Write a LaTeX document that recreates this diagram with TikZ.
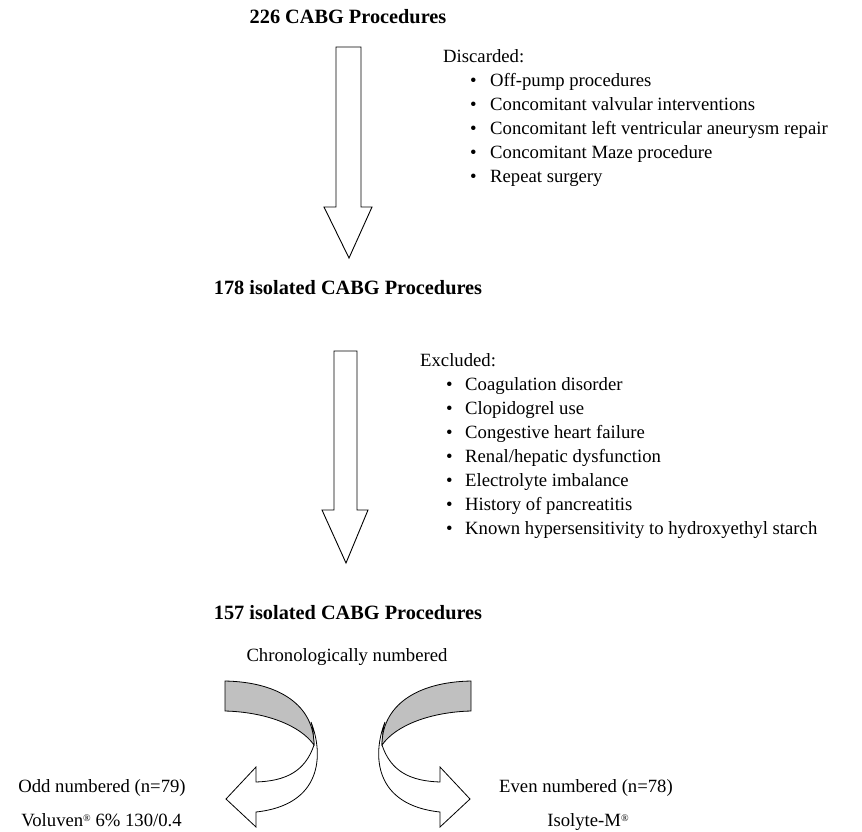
\documentclass[tikz,border=0pt]{standalone}
\usepackage{fontspec}
\setmainfont{Liberation Serif}
\definecolor{facegray}{RGB}{192,192,192}
\newcommand{\regmark}{\raisebox{0.55ex}{\fontsize{10}{10}\selectfont ®}}
\begin{document}
\begin{tikzpicture}[x=1pt,y=-1pt,
  txt/.style={font=\fontsize{18.7}{24}\selectfont, inner sep=0pt},
  ttl/.style={font=\fontsize{20.3}{24}\selectfont\bfseries, inner sep=0pt},
  blockarrow/.style={draw=black, line width=0.9pt, fill=white, line join=miter},
  ribbon/.style={draw=black, line width=0.8pt, fill=white},
  ribbonface/.style={draw=black, line width=0.8pt, fill=facegray},
  carrow/.pic={
    \path[ribbon] (-34,745) .. controls (-43,772) and (-63,781) .. (-92,782)
      -- (-92,767) -- (-122,799) -- (-92,827) -- (-92,812)
      .. controls (-26,805) and (-24,755) .. (-37,722)
      .. controls (-35,730) .. (-34,745) -- cycle;
    \path[ribbonface] (-123,681) .. controls (-68,682) and (-34,706) .. (-34,745)
      .. controls (-48,725) and (-83,712) .. (-123,711) -- cycle;
  }]
\path[use as bounding box] (0,0) rectangle (862,831);

% titles
\node[ttl, anchor=base] (t1) at (348,23) {226 CABG Procedures};
\node[ttl, anchor=base] (t2) at (348,294) {178 isolated CABG Procedures};
\node[ttl, anchor=base] (t3) at (348,619) {157 isolated CABG Procedures};

% straight block arrows
\path[blockarrow] (336,47) -- (361,47) -- (361,207) -- (372,207) -- (349,258)
  -- (324,207) -- (336,207) -- cycle;
\path[blockarrow] (334,351) -- (357,351) -- (357,510) -- (368,510) -- (346,563)
  -- (322,510) -- (334,510) -- cycle;

% discarded list
\node[txt, anchor=base west] (dh) at (443,62) {Discarded:};
\foreach \t [count=\i] in {Off-pump procedures, Concomitant valvular interventions,
  Concomitant left ventricular aneurysm repair, Concomitant Maze procedure, Repeat surgery}{
  \node[txt, anchor=base west] (db\i) at (470,62+24*\i) {•};
  \node[txt, anchor=base west] (d\i) at (490,62+24*\i) {\t};
}

% excluded list
\node[txt, anchor=base west] (eh) at (420,366) {Excluded:};
\foreach \t [count=\i] in {Coagulation disorder, Clopidogrel use, Congestive heart failure,
  Renal/hepatic dysfunction, Electrolyte imbalance, History of pancreatitis,
  Known hypersensitivity to hydroxyethyl starch}{
  \node[txt, anchor=base west] (eb\i) at (446,366+24.05*\i) {•};
  \node[txt, anchor=base west] (e\i) at (465,366+24.05*\i) {\t};
}

% randomisation
\node[txt, anchor=base] (chron) at (347,661) {Chronologically numbered};
\pic at (348,0) {carrow};
\pic[xscale=-1] at (348,0) {carrow};

\node[txt, anchor=base] (odd) at (102,792) {Odd numbered (n=79)};
\node[txt, anchor=base] (vol) at (101.5,826.5) {Voluven\regmark{} 6\% 130/0.4};
\node[txt, anchor=base] (even) at (586,792) {Even numbered (n=78)};
\node[txt, anchor=base] (iso) at (588,826.5) {Isolyte-M\regmark};
\end{tikzpicture}
\end{document}
